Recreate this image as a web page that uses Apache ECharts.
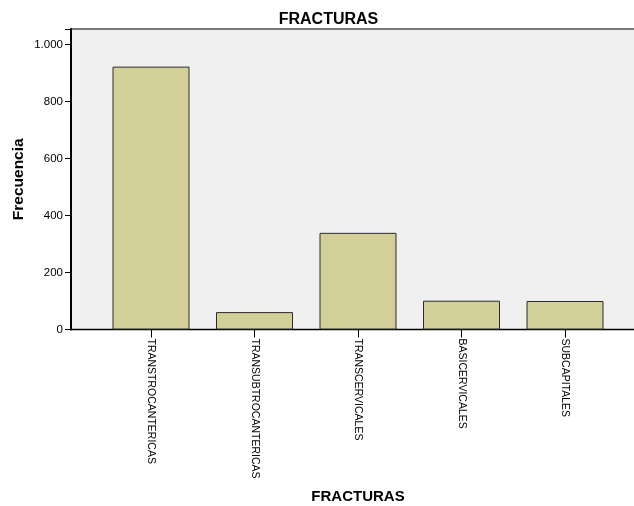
<!DOCTYPE html>
<html>
<head>
<meta charset="utf-8">
<script src="https://cdn.jsdelivr.net/npm/echarts@6/dist/echarts.min.js"></script>
<style>html,body{margin:0;padding:0;background:#fff;}#c{width:634px;height:506px;}</style>
</head>
<body>
<div id="c"></div>
<script>
const categories = ['TRANSTROCANTERICAS', 'TRANSUBTROCANTERICAS', 'TRANSCERVICALES', 'BASICERVICALES', 'SUBCAPITALES'];
const frecuencia = [922, 61, 339, 101, 100];
const yTicks = [0, 200, 400, 600, 800, 1000];
const yMax = 1054;

const fmt = v => v >= 1000 ? String(v).replace(/\B(?=(\d{3})+(?!\d))/g, '.') : String(v);

const chart = echarts.init(document.getElementById('c'), null, {renderer: 'canvas'});
const font = 'Liberation Sans, Arial, sans-serif';
chart.setOption({
  animation: false,
  textStyle: {fontFamily: font},
  title: {
    text: 'FRACTURAS', left: 323.5, top: 7, textAlign: 'center',
    textStyle: {fontSize: 16, fontWeight: 'bold', color: '#000', fontFamily: font}
  },
  grid: [
    {left: 71, top: 29, width: 570, bottom: 176.5, show: true, backgroundColor: '#f0f0f0', borderColor: '#7a7a7a', borderWidth: 2,
     containLabel: false, outerBoundsMode: 'none'},
    {left: 99.25, top: 29, width: 517.5, bottom: 176.5, containLabel: false, outerBoundsMode: 'none'}
  ],
  xAxis: [
    {gridIndex: 0, type: 'value', min: 0, max: 1, axisLine: {show: true, onZero: false, lineStyle: {color: '#000', width: 1}},
     axisTick: {show: false}, axisLabel: {show: false}, splitLine: {show: false}},
    {gridIndex: 1, type: 'category', data: categories, boundaryGap: true,
     axisLine: {show: false}, axisTick: {show: true, alignWithLabel: true, length: 8, lineStyle: {color: '#000', width: 1}},
     axisLabel: {rotate: -90, margin: 9, fontSize: 10.5, color: '#000', fontFamily: font, interval: 0},
     name: 'FRACTURAS', nameLocation: 'middle', nameGap: 160, nameMoveOverlap: false,
     nameTextStyle: {fontSize: 15, fontWeight: 'bold', color: '#000', fontFamily: font}}
  ],
  yAxis: [
    {gridIndex: 0, type: 'value', min: 0, max: yMax, interval: 200,
     axisLine: {show: true, lineStyle: {color: '#000', width: 2}},
     axisTick: {show: true, length: 6, lineStyle: {color: '#000', width: 1}},
     axisLabel: {fontSize: 11.5, color: '#000', margin: 8, fontFamily: font,
       formatter: v => yTicks.indexOf(v) >= 0 ? fmt(v) : ''},
     splitLine: {show: false},
     name: 'Frecuencia', nameLocation: 'middle', nameGap: 44, nameMoveOverlap: false,
     nameTextStyle: {fontSize: 15.5, fontWeight: 'bold', color: '#000', fontFamily: font}},
    {gridIndex: 1, type: 'value', min: 0, max: yMax, show: false}
  ],
  series: [{
    type: 'bar', xAxisIndex: 1, yAxisIndex: 1, data: frecuencia,
    barWidth: 77,
    itemStyle: {color: '#d3cf98', borderColor: '#2b2b2b', borderWidth: 1}
  }]
});
</script>
</body>
</html>
